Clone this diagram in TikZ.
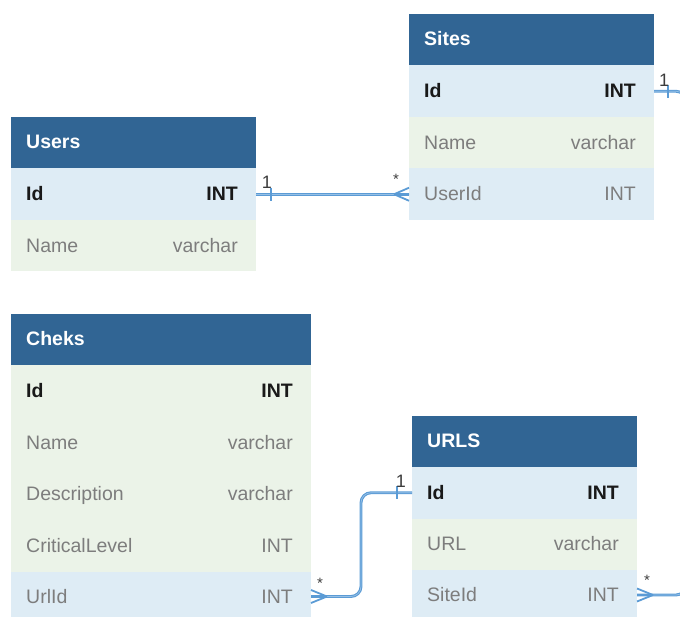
\documentclass[tikz,border=0pt]{standalone}
\usepackage{fontspec}
\setmainfont{Liberation Sans}
\usetikzlibrary{calc}
\definecolor{hdrblue}{RGB}{49,101,148}
\definecolor{rowblue}{RGB}{222,236,245}
\definecolor{rowgreen}{RGB}{235,243,232}
\definecolor{connblue}{RGB}{91,155,213}
\definecolor{connlight}{RGB}{150,192,230}
\definecolor{txtgray}{RGB}{125,125,125}
\definecolor{keyblack}{RGB}{25,25,25}
\definecolor{lblgray}{RGB}{60,60,60}
\newcommand\tabrow[9]{%
  \node[cell, fill=#6, minimum width=#4, minimum height=#5] (#1) at (#2,#3) {};
  \node[#9, anchor=base west] (#1-l) at ([xshift=15pt,yshift=-6.5pt]#1.west) {#7};
  \node[#9, anchor=base east] (#1-r) at ([xshift=-18pt,yshift=-6.5pt]#1.east) {#8};
}
\newcommand\tabhead[5]{%
  \node[cell, fill=hdrblue, minimum width=#4, minimum height=51.5] (#1) at (#2,#3) {};
  \node[hdrtxt, anchor=base west] (#1-t) at ([xshift=15pt,yshift=-6pt]#1.west) {#5};
}
\begin{document}
\begin{tikzpicture}[x=1pt,y=-1pt,
  font=\fontsize{19.5}{22}\selectfont,
  cell/.style={anchor=north west, inner sep=0pt, outer sep=0pt, draw=none},
  keytxt/.style={inner sep=0pt, text=keyblack, font=\fontsize{19.5}{22}\selectfont\bfseries},
  plaintxt/.style={inner sep=0pt, text=txtgray},
  hdrtxt/.style={inner sep=0pt, text=white, font=\fontsize{19.5}{22}\selectfont\bfseries},
  conn/.style={draw=connblue, line width=1.1pt, double=connlight, double distance=0.7pt},
  connthin/.style={draw=connblue, line width=1.8pt},
  lbl/.style={inner sep=0pt, text=lblgray, font=\fontsize{18}{20}\selectfont},
  star/.style={inner sep=0pt, text=lblgray, font=\fontsize{15}{17}\selectfont}]
\useasboundingbox (0,0) rectangle (680,617);
\clip (0,0) rectangle (680,617);

% Users
\tabhead{users}{11}{117}{245}{Users}
\tabrow{users-id}{11}{168.5}{245}{51.5}{rowblue}{Id}{INT}{keytxt}
\tabrow{users-name}{11}{220}{245}{51.5}{rowgreen}{Name}{varchar}{plaintxt}

% Sites
\tabhead{sites}{409}{14}{245}{Sites}
\tabrow{sites-id}{409}{65.5}{245}{51.5}{rowblue}{Id}{INT}{keytxt}
\tabrow{sites-name}{409}{117}{245}{51.5}{rowgreen}{Name}{varchar}{plaintxt}
\tabrow{sites-userid}{409}{168.5}{245}{51.5}{rowblue}{UserId}{INT}{plaintxt}

% Cheks
\tabhead{cheks}{11}{314}{300}{Cheks}
\tabrow{cheks-id}{11}{365.5}{300}{51.5}{rowgreen}{Id}{INT}{keytxt}
\tabrow{cheks-name}{11}{417}{300}{51.5}{rowgreen}{Name}{varchar}{plaintxt}
\tabrow{cheks-desc}{11}{468.5}{300}{51.5}{rowgreen}{Description}{varchar}{plaintxt}
\tabrow{cheks-crit}{11}{520}{300}{51.5}{rowgreen}{CriticalLevel}{INT}{plaintxt}
\tabrow{cheks-urlid}{11}{571.5}{300}{50}{rowblue}{UrlId}{INT}{plaintxt}

% URLS
\tabhead{urls}{412}{416}{225}{URLS}
\tabrow{urls-id}{412}{467}{225}{51.5}{rowblue}{Id}{INT}{keytxt}
\tabrow{urls-url}{412}{518.5}{225}{51.5}{rowgreen}{URL}{varchar}{plaintxt}
\tabrow{urls-siteid}{412}{570}{225}{50}{rowblue}{SiteId}{INT}{plaintxt}

% Users.Id 1 -- * Sites.UserId
\draw[conn] (users-id.east) -- (sites-userid.west);
\draw[connthin] ($(users-id.east)+(15,-6.5)$) -- ($(users-id.east)+(15,6.5)$);
\draw[connthin] ($(sites-userid.west)+(-15,0)$) -- ($(sites-userid.west)+(0,-6.5)$)
  ($(sites-userid.west)+(-15,0)$) -- ($(sites-userid.west)+(0,6.5)$)
  ($(sites-userid.west)+(-15,0)$) -- (sites-userid.west);
\node[lbl] (l-users) at (267,182) {1};
\node[star] (s-sites) at (396,179) {*};

% Cheks.UrlId * -- 1 URLS.Id
\draw[conn, rounded corners=10pt] (cheks-urlid.east) -- ++(50,0) |- (urls-id.west);
\draw[connthin] ($(cheks-urlid.east)+(16,0)$) -- ($(cheks-urlid.east)+(0,-6.5)$)
  ($(cheks-urlid.east)+(16,0)$) -- ($(cheks-urlid.east)+(0,6.5)$)
  ($(cheks-urlid.east)+(16,0)$) -- (cheks-urlid.east);
\draw[connthin] ($(urls-id.west)+(-15,-6.5)$) -- ($(urls-id.west)+(-15,6.5)$);
\node[star] (s-cheks) at (320,583) {*};
\node[lbl] (l-urls) at (401,481) {1};

% URLS.SiteId * -- 1 Sites.Id (leaves the picture on the right)
\draw[conn, rounded corners=10pt] (sites-id.east) -- ++(32,0) |- (urls-siteid.east);
\draw[connthin] ($(sites-id.east)+(14,-6.5)$) -- ($(sites-id.east)+(14,6.5)$);
\draw[connthin] ($(urls-siteid.east)+(16,0)$) -- ($(urls-siteid.east)+(0,-6.5)$)
  ($(urls-siteid.east)+(16,0)$) -- ($(urls-siteid.east)+(0,6.5)$)
  ($(urls-siteid.east)+(16,0)$) -- (urls-siteid.east);
\node[lbl] (l-sites) at (664,80) {1};
\node[star] (s-urls) at (647,580) {*};
\end{tikzpicture}
\end{document}
